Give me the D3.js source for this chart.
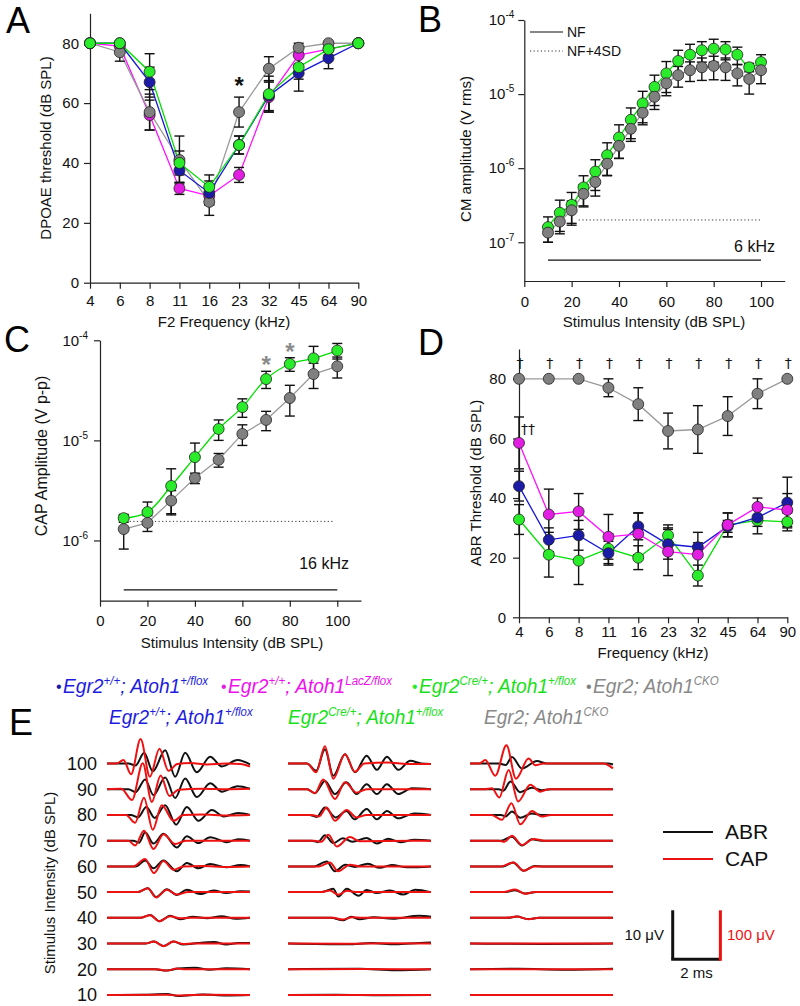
<!DOCTYPE html>
<html><head><meta charset="utf-8">
<script src="https://cdn.jsdelivr.net/npm/d3@7"></script>
<style>
body{margin:0;background:#fff;}
svg{display:block;font-family:"Liberation Sans",Arial,Helvetica,sans-serif;}
</style></head><body>
<svg id="c" width="800" height="1006"></svg>
<script>
// ---------------- DATA ----------------
const freqLabels = ["4","6","8","11","16","23","32","45","64","90"];
const seriesKeys = ["blue","magenta","green","gray"];
// legend genotype labels: [text, isSuperscript]
const genoBlue    = [["Egr2",0],["+/+",1],["; Atoh1",0],["+/flox",1]];
const genoMagenta = [["Egr2",0],["+/+",1],["; Atoh1",0],["LacZ/flox",1]];
const genoGreen   = [["Egr2",0],["Cre/+",1],["; Atoh1",0],["+/flox",1]];
const genoGray    = [["Egr2; Atoh1",0],["CKO",1]];

// Panel A: DPOAE threshold (dB SPL)
const dpoaeBlue       = [80,80,67,37.5,30,46,62.5,70,75,80];
const dpoaeBlueErr    = [0,0,5,4,4,3,5,6,3.5,0];
const dpoaeMagenta    = [80,79,56,31.5,29,36,62,76,78,80];
const dpoaeMagentaErr = [0,0,5,2,3,2.5,5,3,2,0];
const dpoaeGreen      = [80,80,70.5,40,32,46,63,72,78,80];
const dpoaeGreenErr   = [0,0,6,4,4,3,6,4,2,0];
const dpoaeGray       = [80,77,57,41,27,57,71.5,78.5,80,80];
const dpoaeGrayErr    = [0,3,6,8,4.5,5,4,1.5,0.5,0];

// Panel B: CM amplitude (V rms) at 6 kHz
const cmLevels   = [10,15,20,25,30,35,40,45,50,55,60,65,70,75,80,85,90,95,100];
const cmGreen    = [1.6e-7,2.5e-7,3.2e-7,5.5e-7,9e-7,1.5e-6,2.6e-6,4.5e-6,7.5e-6,1.25e-5,1.9e-5,2.8e-5,3.4e-5,3.9e-5,4.1e-5,4.0e-5,3.4e-5,2.3e-5,2.7e-5];
const cmGreenErr = [0.6e-7,1.2e-7,1.5e-7,2.4e-7,4e-7,7e-7,1.25e-6,2e-6,3.4e-6,5.5e-6,8.5e-6,1.1e-5,1.3e-5,1.2e-5,1.4e-5,1.1e-5,0.9e-5,0.3e-5,0.7e-5];
const cmGray     = [1.35e-7,1.9e-7,2.7e-7,4.5e-7,6.5e-7,1.15e-6,2.0e-6,3.4e-6,5.6e-6,9.2e-6,1.4e-5,1.8e-5,2.1e-5,2.3e-5,2.4e-5,2.3e-5,1.9e-5,1.6e-5,2.1e-5];
const cmGrayErr  = [0.35e-7,0.5e-7,0.9e-7,1.5e-7,2.3e-7,3.6e-7,6.4e-7,1.1e-6,1.75e-6,3e-6,4.5e-6,5.6e-6,6.2e-6,7.7e-6,8.4e-6,7.7e-6,6.1e-6,6e-6,7.2e-6];
const cmNoiseFloor = 5.75e-8;
const cmNoiseFloor4SD = 2.0e-7;

// Panel C: CAP amplitude (V p-p) at 16 kHz
const capLevels   = [10,20,30,40,50,60,70,80,90,100];
const capGreen    = [1.67e-6,1.92e-6,3.5e-6,6.8e-6,1.3e-5,2.15e-5,4.1e-5,5.8e-5,6.6e-5,7.9e-5];
const capGreenErr = [0.15e-6,0.5e-6,1.7e-6,2.6e-6,3e-6,4.5e-6,8e-6,9e-6,2.1e-5,1.4e-5];
const capGray     = [1.3e-6,1.5e-6,2.5e-6,4.2e-6,6.4e-6,1.16e-5,1.6e-5,2.65e-5,4.6e-5,5.5e-5];
const capGrayErr  = [0.48e-6,0.27e-6,0.65e-6,0.5e-6,1e-6,2.7e-6,3.5e-6,9e-6,1.3e-5,1.3e-5];
const capNoiseFloor = 3.2e-7;
const capNoiseFloor4SD = 1.55e-6;
const capSignif = [70,80];

// Panel D: ABR threshold (dB SPL)
const abrBlue       = [44,26,27.5,21.5,30.5,24.5,23.5,30.5,33.5,38.5];
const abrBlueErr    = [5,4,5,4,4.5,5,1.5,2,3,8.5];
const abrMagenta    = [58.5,34.5,35.5,27,28,22,21,31,37,36];
const abrMagentaErr = [8.7,8.5,6,7.5,7,8,7.5,4,3,5.5];
const abrGreen      = [32.8,21,19,23,20,27.5,14,31,32.5,32];
const abrGreenErr   = [5,7.5,8,5,4,3.5,3.5,4,4.5,3];
const abrGray       = [80,80,80,77,71.5,62.5,63,67.5,75,80];
const abrGrayErr    = [0,0,0,3,5.5,6,8,6.5,5,0];

// Panel E: waveforms, [time ms, amplitude uV]; rows = 100..10 dB SPL
const stimLevels = [100,90,80,70,60,50,40,30,20,10];
const abrWaveCol1 = [
 [[0,0],[0.9,0],[1.2,-0.4],[1.56,2.2],[1.92,-1.6],[2.44,2.7],[2.86,-2.7],[3.28,2.2],[3.77,-1.8],[4.33,1.4],[4.82,-0.6],[5.48,0.7],[6,-0.2]],
 [[0,0],[0.9,0],[1.2,-0.6],[1.6,2.0],[1.95,-1.2],[2.44,2.4],[2.86,-1.8],[3.28,2.2],[3.77,-1.6],[4.33,1.2],[4.82,-0.5],[5.48,0.6],[6,0.1]],
 [[0,0],[1.0,0],[1.3,-0.5],[1.65,1.6],[2.0,-0.6],[2.44,2.0],[2.9,-2.0],[3.35,1.6],[3.84,-1.2],[4.4,1.0],[4.9,-0.3],[5.5,0.4],[6,0]],
 [[0,0],[1.1,0],[1.35,-0.4],[1.6,1.7],[1.95,-0.6],[2.37,1.4],[2.93,-1.4],[3.35,0.9],[3.84,-0.5],[4.33,0.7],[5.03,-0.3],[5.5,0.3],[6,0]],
 [[0,0],[1.2,0],[1.6,1.2],[1.95,-0.4],[2.37,1.2],[2.93,-1.0],[3.35,0.7],[3.84,-0.4],[4.33,0.5],[5,-0.2],[5.6,0.3],[6,0]],
 [[0,0],[1.3,0],[1.71,0.8],[2.06,-1.0],[2.51,0.6],[2.93,-0.6],[3.35,0.5],[3.91,-0.4],[4.47,0.35],[5,-0.2],[5.6,0.2],[6,0.1]],
 [[0,0],[1.4,0],[1.81,0.6],[2.2,-0.7],[2.65,0.4],[3.07,-0.3],[3.6,0.2],[4.2,-0.1],[4.8,0.3],[5.4,-0.2],[6,0]],
 [[0,0],[1.6,0],[1.97,0.4],[2.37,-0.5],[2.79,0.4],[3.2,-0.2],[3.8,0.1],[4.5,0.3],[5,-0.2],[5.5,0.1],[6,0.1]],
 [[0,0],[2.0,0],[2.5,-0.25],[3.0,0.15],[3.7,0.3],[4.3,-0.1],[5,0.2],[6,0]],
 [[0,0],[1.5,0.05],[2.5,0.2],[3.0,-0.2],[4,0.1],[5,-0.1],[6,0]]
];
const capWaveCol1 = [
 [[0,0],[0.4,0],[0.69,7],[1.01,-22],[1.41,50],[1.8,-27],[2.2,30],[2.58,-15],[2.95,-1],[3.5,1],[4.2,-2],[5,0],[5.6,-1],[6,-6]],
 [[0,0],[0.6,1],[1.05,-22],[1.5,53],[1.88,-26],[2.25,28],[2.62,-14],[3.0,-1],[4,1],[5,0],[6,1]],
 [[0,0],[0.8,0],[1.18,-16],[1.55,35],[1.92,-30],[2.3,20],[2.79,-12],[3.2,0],[4,1],[5,-1],[6,0]],
 [[0,0],[0.9,0],[1.18,-10],[1.55,20],[1.95,-17],[2.37,13],[2.86,-7],[3.3,0],[6,0]],
 [[0,0],[1.1,0],[1.6,15],[1.97,-13.6],[2.37,11],[2.79,-6.8],[3.2,0],[4,1],[5,-1],[6,0]],
 [[0,0],[1.3,0],[1.71,8],[2.06,-11],[2.51,5],[2.93,-5],[3.4,0],[6,0]],
 [[0,0],[1.4,0],[1.81,5.4],[2.2,-6.8],[2.65,3.4],[3.07,-1],[3.5,0],[6,0]],
 [[0,0],[1.6,0],[1.97,4],[2.37,-5.4],[2.79,4],[3.2,-1],[3.6,0],[6,0]],
 [[0,0],[2.1,0],[2.51,-2.7],[2.93,1.4],[3.3,0],[6,0]],
 [[0,0],[2.5,0.5],[3.0,-1],[4,0.5],[6,0]]
];
const abrWaveCol2 = [
 [[0,0],[0.8,0],[1.18,-1.5],[1.55,2.9],[1.9,-2.5],[2.39,1.9],[2.81,-1.8],[3.3,1.6],[3.73,-1.3],[4.15,1.4],[4.63,-1.3],[5.13,0.55],[5.6,0],[6,-0.1]],
 [[0,0],[0.8,0],[1.13,-0.8],[1.55,1.7],[1.97,-1.0],[2.45,1.4],[2.88,-1.0],[3.3,1.0],[3.73,-1.0],[4.15,1.0],[4.63,-1.0],[5.2,0.2],[6,0]],
 [[0,0],[0.9,0],[1.2,-0.4],[1.55,1.5],[2.0,-0.5],[2.45,0.8],[2.8,-0.9],[3.3,1.2],[3.73,-0.9],[4.15,0.8],[4.63,-0.7],[5.3,0.3],[6,0]],
 [[0,0],[1.0,0],[1.25,-0.3],[1.55,1.1],[1.9,-0.5],[2.3,0.5],[2.7,-0.2],[3.3,0.55],[3.73,-0.6],[4.2,0.4],[4.7,-0.3],[5.3,0.2],[6,0]],
 [[0,0],[1.1,0],[1.62,1.0],[1.97,-1.0],[2.4,0.35],[2.8,-0.1],[3.35,0.55],[3.85,-0.3],[4.35,0.3],[5.0,-0.2],[6,0]],
 [[0,0],[1.4,0],[1.9,0.7],[2.11,-0.9],[2.47,0.7],[2.96,-0.75],[3.3,0.45],[3.72,-0.2],[4.28,0.35],[4.84,-0.5],[5.33,0.5],[6,0]],
 [[0,0],[1.8,0],[2.3,-0.5],[2.65,0.2],[3.0,-0.3],[3.6,0.1],[4.4,-0.2],[5.5,0.4],[6,0.2]],
 [[0,0],[2.5,-0.15],[3.5,0.1],[4.5,-0.15],[5.5,0.1],[6,0.2]],
 [[0,0],[3,0.1],[4.5,-0.2],[6,0]],
 [[0,0],[2,0.05],[4,-0.05],[6,0]]
];
const capWaveCol2 = [
 [[0,0],[0.8,0],[1.18,-18],[1.55,35],[1.9,-31],[2.39,19],[2.81,-17],[3.2,0],[4.2,2],[5,-1],[6,-1]],
 [[0,0],[0.8,0],[1.13,-8],[1.48,20],[1.97,-20],[2.39,14],[2.88,-7],[3.3,0],[6,0]],
 [[0,0],[1.0,0],[1.3,-3],[1.62,15],[1.97,-12],[2.46,10],[2.88,-5],[3.3,0],[6,0]],
 [[0,0],[1.1,0],[1.4,-2],[1.69,12],[2.05,-12],[2.6,7.5],[3.0,-1],[6,0]],
 [[0,0],[1.3,0],[1.76,8],[2.1,-10],[2.6,3.4],[3.0,0],[6,0]],
 [[0,0],[1.4,0],[1.76,3.4],[2.11,-5.5],[2.47,2.7],[2.9,0],[6,0]],
 [[0,0],[1.9,0],[2.3,-3.4],[2.7,1],[3.1,0],[6,0]],
 [[0,0],[2.5,-0.5],[4,0.5],[6,0]],
 [[0,0],[3,0.5],[6,0]],
 [[0,0],[6,0]]
];
const abrWaveCol3 = [
 [[0,0],[1.2,0],[1.5,-0.3],[1.76,1.35],[2.18,-1.0],[2.81,0.5],[3.2,0],[5.8,0],[6,-0.2]],
 [[0,0],[1.2,0],[1.4,-0.3],[1.7,1.6],[2.1,-0.6],[2.6,0.3],[3.0,-0.2],[3.4,0],[6,0]],
 [[0,0],[1.3,0],[1.5,-0.3],[1.76,0.7],[2.11,-0.55],[2.6,0.3],[3.0,0],[6,0]],
 [[0,0],[1.3,0],[1.76,0.8],[2.18,-1.0],[2.6,0.3],[3.0,0],[6,0]],
 [[0,0],[1.4,0],[1.8,0.8],[2.25,-0.9],[2.7,0.1],[3.1,0],[6,0]],
 [[0,0],[1.5,0],[1.89,0.4],[2.31,-0.3],[2.8,0],[6,0]],
 [[0,0],[1.6,0],[1.96,0.25],[2.45,-0.25],[2.9,0],[6,0]],
 [[0,0],[3,-0.1],[6,0]],
 [[0,0],[2,0.1],[4,-0.1],[6,0.1]],
 [[0,0],[6,0]]
];
const capWaveCol3 = [
 [[0,0],[0.4,0],[0.64,7],[1.06,-25],[1.53,37],[1.93,-31],[2.46,10],[2.74,-3.5],[3.1,0],[5.6,0],[6,-10]],
 [[0,0],[0.6,0],[0.92,2],[1.23,-17],[1.62,39],[2.02,-25],[2.53,9],[2.95,-5],[3.3,0],[6,0]],
 [[0,0],[0.9,0],[1.34,-10],[1.74,24],[2.11,-19],[2.6,8],[3.0,-3.4],[3.4,0],[6,0]],
 [[0,0],[1.2,0],[1.45,-2],[1.76,10],[2.18,-9],[2.67,3.4],[3.1,0],[6,0]],
 [[0,0],[1.3,0],[1.83,8],[2.25,-9],[2.7,0],[6,0]],
 [[0,0],[1.4,0],[1.89,5.4],[2.31,-3.4],[2.7,0],[6,0]],
 [[0,0],[1.5,0],[1.96,2.7],[2.45,-2.7],[2.9,0],[6,0]],
 [[0,0],[6,0]],
 [[0,0],[6,0]],
 [[0,0],[6,0]]
];

// ---------------- STYLE ----------------
const FILL = {blue:"#1b1ba6", magenta:"#e21ee2", green:"#2bec2b", gray:"#808080"};
const LINE = {blue:"#1515d8", magenta:"#ff10ff", green:"#00e000", gray:"#9a9a9a"};
const TEXTC = {blue:"#1c1ce0", magenta:"#ee10ee", green:"#18e018", gray:"#888888"};
const svg = d3.select("#c");

function styleAxis(g, fs){
  g.selectAll("path,line").attr("stroke","#222").attr("stroke-width",1.2);
  g.selectAll("text").attr("font-size",fs||15).attr("fill","#111").attr("font-family","Liberation Sans, Arial, sans-serif");
}
function logLabels(g){
  g.selectAll(".tick text").each(function(d){
    const e = Math.round(Math.log10(d));
    const t = d3.select(this); t.text(null);
    t.append("tspan").text("10");
    t.append("tspan").attr("dy",-7).attr("font-size",10).text(e);
  });
}
function letter(x,y,s){ svg.append("text").attr("x",x).attr("y",y).attr("font-size",36).attr("fill","#000").text(s); }
function ytitle(x,y,s,fs){ svg.append("text").attr("transform",`translate(${x},${y}) rotate(-90)`).attr("text-anchor","middle").attr("font-size",fs||15).attr("fill","#111").text(s); }
function xtitle(x,y,s,fs){ svg.append("text").attr("x",x).attr("y",y).attr("text-anchor","middle").attr("font-size",fs||15).attr("fill","#111").text(s); }

function drawSeries(g, xv, vals, errs, x, y, key, curve, cap){
  const ymin = y.domain()[0];
  g.append("path").datum(vals.map((v,i)=>[xv[i],v]))
    .attr("fill","none").attr("stroke",LINE[key]).attr("stroke-width",1.3)
    .attr("d", d3.line().x(d=>x(d[0])).y(d=>y(d[1])).curve(curve||d3.curveLinear));
  const eg = g.append("g").attr("stroke","#111").attr("stroke-width",1.4);
  vals.forEach((v,i)=>{
    const e = errs[i]; if(!e) return;
    const cx = x(xv[i]);
    const lo = Math.max(v-e, ymin), hi = v+e;
    eg.append("line").attr("x1",cx).attr("x2",cx).attr("y1",y(lo)).attr("y2",y(hi));
    eg.append("line").attr("x1",cx-cap).attr("x2",cx+cap).attr("y1",y(hi)).attr("y2",y(hi));
    if (v-e > ymin) eg.append("line").attr("x1",cx-cap).attr("x2",cx+cap).attr("y1",y(lo)).attr("y2",y(lo));
  });
}
function drawMarkers(g, xv, vals, x, y, key, r){
  g.append("g").selectAll("circle").data(vals).join("circle")
    .attr("cx",(d,i)=>x(xv[i])).attr("cy",d=>y(d)).attr("r",r||5.5)
    .attr("fill",FILL[key]).attr("stroke","#222").attr("stroke-width",0.8);
}
function richText(x, y, parts, color, fs, sfs, sx){
  const g = svg.append("g").attr("transform",`translate(${x},${y}) scale(${sx||1},1)`);
  const t = g.append("text").attr("x",0).attr("y",0).attr("fill",color)
    .attr("font-size",fs).attr("font-style","italic")
    .attr("font-family","Liberation Sans, Arial, sans-serif");
  let sup = false;
  parts.forEach(p=>{
    const ts = t.append("tspan").text(p[0]);
    if(p[1] && !sup){ ts.attr("dy",-fs*0.38).attr("font-size",sfs); sup=true; }
    else if(!p[1] && sup){ ts.attr("dy",fs*0.38); sup=false; }
  });
  return t;
}

// ---------------- PANEL A ----------------
{
  const x = d3.scalePoint().domain(freqLabels).range([90,358.3]);
  const y = d3.scaleLinear().domain([0,90]).range([282.7,13.3]);
  const ax = svg.append("g").attr("transform","translate(0,282.7)")
    .call(d3.axisBottom(x).tickSize(6).tickSizeOuter(0).tickPadding(7));
  styleAxis(ax);
  const ay = svg.append("g").attr("transform","translate(90,0)")
    .call(d3.axisLeft(y).tickValues([0,20,40,60,80]).tickSize(6).tickSizeOuter(0).tickPadding(5));
  styleAxis(ay);
  const g = svg.append("g");
  const S = {blue:[dpoaeBlue,dpoaeBlueErr],magenta:[dpoaeMagenta,dpoaeMagentaErr],green:[dpoaeGreen,dpoaeGreenErr],gray:[dpoaeGray,dpoaeGrayErr]};
  const order = ["magenta","gray","blue","green"];
  order.forEach(k=>drawSeries(g,freqLabels,S[k][0],S[k][1],x,y,k,null,5));
  order.forEach(k=>drawMarkers(g,freqLabels,S[k][0],x,y,k));
  svg.append("text").attr("x",x("23")).attr("y",94).attr("text-anchor","middle").attr("font-size",24).attr("font-weight","bold").attr("fill","#111").text("*");
  letter(6,33,"A");
  ytitle(51,148,"DPOAE threshold (dB SPL)");
  xtitle(224,327,"F2 Frequency (kHz)");
}

// ---------------- PANEL B ----------------
{
  const x = d3.scaleLinear().domain([0,110]).range([524.3,784.7]);
  const y = d3.scaleLog().domain([3e-8,1e-4]).range([281,20]);
  const ax = svg.append("g").attr("transform","translate(0,281)")
    .call(d3.axisBottom(x).tickValues([0,20,40,60,80,100]).tickSize(6).tickSizeOuter(0).tickPadding(9));
  styleAxis(ax);
  const ay = svg.append("g").attr("transform","translate(524.3,0)")
    .call(d3.axisLeft(y).tickValues([1e-7,1e-6,1e-5,1e-4]).tickSize(6).tickSizeOuter(0).tickPadding(4));
  styleAxis(ay); logLabels(ay);
  svg.append("line").attr("x1",x(10)).attr("x2",x(100)).attr("y1",y(cmNoiseFloor)).attr("y2",y(cmNoiseFloor)).attr("stroke","#111").attr("stroke-width",1.3);
  svg.append("line").attr("x1",x(23)).attr("x2",x(100)).attr("y1",y(cmNoiseFloor4SD)).attr("y2",y(cmNoiseFloor4SD)).attr("stroke","#333").attr("stroke-width",1).attr("stroke-dasharray","1.2,2.4");
  const g = svg.append("g");
  drawSeries(g,cmLevels,cmGreen,cmGreenErr,x,y,"green",d3.curveCatmullRom,5);
  drawSeries(g,cmLevels,cmGray,cmGrayErr,x,y,"gray",null,5);
  drawMarkers(g,cmLevels,cmGreen,x,y,"green");
  drawMarkers(g,cmLevels,cmGray,x,y,"gray");
  // legend
  svg.append("line").attr("x1",530).attr("x2",563).attr("y1",32).attr("y2",32).attr("stroke","#111").attr("stroke-width",1.2);
  svg.append("text").attr("x",567).attr("y",37).attr("font-size",14).attr("fill","#111").text("NF");
  svg.append("line").attr("x1",530).attr("x2",563).attr("y1",51).attr("y2",51).attr("stroke","#333").attr("stroke-width",1).attr("stroke-dasharray","1.2,2.4");
  svg.append("text").attr("x",567).attr("y",56).attr("font-size",14).attr("fill","#111").text("NF+4SD");
  svg.append("text").attr("x",775).attr("y",252).attr("text-anchor","end").attr("font-size",16).attr("fill","#111").text("6 kHz");
  letter(418,32,"B");
  ytitle(471,149,"CM amplitude (V rms)",15);
  xtitle(654,327,"Stimulus Intensity (dB SPL)");
}

// ---------------- PANEL C ----------------
{
  const x = d3.scaleLinear().domain([0,110]).range([100,361]);
  const y = d3.scaleLog().domain([2.5e-7,1e-4]).range([600.7,340.3]);
  const ax = svg.append("g").attr("transform","translate(0,600.7)")
    .call(d3.axisBottom(x).tickValues([0,20,40,60,80,100]).tickSize(6).tickSizeOuter(0).tickPadding(9));
  styleAxis(ax);
  const ay = svg.append("g").attr("transform","translate(100,0)")
    .call(d3.axisLeft(y).tickValues([1e-6,1e-5,1e-4]).tickSize(6).tickSizeOuter(0).tickPadding(6));
  styleAxis(ay); logLabels(ay);
  svg.append("line").attr("x1",x(10)).attr("x2",x(100)).attr("y1",y(capNoiseFloor)).attr("y2",y(capNoiseFloor)).attr("stroke","#111").attr("stroke-width",1.3);
  svg.append("line").attr("x1",x(11)).attr("x2",x(98)).attr("y1",y(capNoiseFloor4SD)).attr("y2",y(capNoiseFloor4SD)).attr("stroke","#333").attr("stroke-width",1).attr("stroke-dasharray","1.2,2.4");
  const g = svg.append("g");
  drawSeries(g,capLevels,capGray,capGrayErr,x,y,"gray",null,5);
  drawSeries(g,capLevels,capGreen,capGreenErr,x,y,"green",d3.curveCatmullRom,5);
  drawMarkers(g,capLevels,capGray,x,y,"gray");
  drawMarkers(g,capLevels,capGreen,x,y,"green");
  capSignif.forEach((lv)=>{
    const gi = capLevels.indexOf(lv);
    svg.append("text").attr("x",x(lv)).attr("y",y(capGreen[gi]+capGreenErr[gi])+2).attr("text-anchor","middle")
      .attr("font-size",24).attr("font-weight","bold").attr("fill","#8a8a8a").text("*");
  });
  svg.append("text").attr("x",349).attr("y",569).attr("text-anchor","end").attr("font-size",16).attr("fill","#111").text("16 kHz");
  letter(4,352,"C");
  ytitle(47,456,"CAP Amplitude (V p-p)",16);
  xtitle(232,648,"Stimulus Intensity (dB SPL)");
}

// ---------------- PANEL D ----------------
{
  const x = d3.scalePoint().domain(freqLabels).range([519,787.3]);
  const y = d3.scaleLinear().domain([0,90]).range([617.3,349]);
  const ax = svg.append("g").attr("transform","translate(0,617.3)")
    .call(d3.axisBottom(x).tickSize(6).tickSizeOuter(0).tickPadding(3));
  styleAxis(ax);
  const ay = svg.append("g").attr("transform","translate(519,0)")
    .call(d3.axisLeft(y).tickValues([0,20,40,60,80]).tickSize(6).tickSizeOuter(0).tickPadding(7));
  styleAxis(ay);
  const g = svg.append("g");
  const S = {blue:[abrBlue,abrBlueErr],magenta:[abrMagenta,abrMagentaErr],green:[abrGreen,abrGreenErr],gray:[abrGray,abrGrayErr]};
  const order = ["gray","green","blue","magenta"];
  order.forEach(k=>drawSeries(g,freqLabels,S[k][0],S[k][1],x,y,k,null,5));
  order.forEach(k=>drawMarkers(g,freqLabels,S[k][0],x,y,k));
  freqLabels.forEach(f=>{
    svg.append("text").attr("x",x(f)+1).attr("y",368).attr("text-anchor","middle")
      .attr("font-family","DejaVu Sans, sans-serif").attr("font-size",14).attr("fill","#111").text("\u2020");
  });
  svg.append("text").attr("x",521).attr("y",434).attr("font-family","DejaVu Sans, sans-serif")
    .attr("font-size",14).attr("fill","#111").text("\u2020\u2020");
  letter(418,355,"D");
  ytitle(481,483,"ABR Threshold (dB SPL)");
  xtitle(653,658,"Frequency (kHz)");
}

// ---------------- LEGEND ROW ----------------
{
  const genos = [genoBlue,genoMagenta,genoGreen,genoGray];
  const xs = [56,221,412,586];
  genos.forEach((gp,i)=>{
    const k = seriesKeys[i];
    svg.append("text").attr("x",xs[i]).attr("y",692).attr("fill",FILL[k]).attr("font-size",16).text("\u2022");
    richText(xs[i]+7,693,gp,TEXTC[k],20,12,0.96);
  });
}

// ---------------- PANEL E ----------------
{
  letter(9,735,"E");
  const colX0 = [107,288,470];
  const colW = 143;
  const titles = [genoBlue,genoGreen,genoGray];
  const tkeys = ["blue","green","gray"];
  const titleX = [109,288,484];
  titles.forEach((t,i)=>richText(titleX[i],724,t,TEXTC[tkeys[i]],20,12,0.95));
  const yLevel = d3.scalePoint().domain(stimLevels).range([763.5,995]);
  const abrY = d3.scaleLinear().domain([-10,10]).range([49,-49]);
  const capY = d3.scaleLinear().domain([-100,100]).range([49,-49]);
  stimLevels.forEach(l=>{
    svg.append("text").attr("x",97).attr("y",yLevel(l)).attr("dy","0.36em").attr("text-anchor","end").attr("font-size",18).attr("fill","#111").text(l);
  });
  const abrCols = [abrWaveCol1,abrWaveCol2,abrWaveCol3];
  const capCols = [capWaveCol1,capWaveCol2,capWaveCol3];
  const g = svg.append("g");
  colX0.forEach((x0,c)=>{
    const xs = d3.scaleLinear().domain([0,6]).range([x0,x0+colW]);
    stimLevels.forEach((l,r)=>{
      const b = yLevel(l);
      g.append("path").datum(abrCols[c][r]).attr("fill","none").attr("stroke","#111").attr("stroke-width",2)
        .attr("d",d3.line().x(d=>xs(d[0])).y(d=>b+abrY(d[1])).curve(d3.curveMonotoneX));
    });
    stimLevels.forEach((l,r)=>{
      const b = yLevel(l);
      g.append("path").datum(capCols[c][r]).attr("fill","none").attr("stroke","#ee1111").attr("stroke-width",2)
        .attr("d",d3.line().x(d=>xs(d[0])).y(d=>b+capY(d[1])).curve(d3.curveMonotoneX));
    });
  });
  ytitle(55,883,"Stimulus Intensity (dB SPL)");
  // legend ABR / CAP
  svg.append("line").attr("x1",663).attr("x2",713).attr("y1",832).attr("y2",832).attr("stroke","#111").attr("stroke-width",2);
  svg.append("text").attr("x",725).attr("y",839).attr("font-size",21).attr("fill","#111").text("ABR");
  svg.append("line").attr("x1",663).attr("x2",713).attr("y1",859).attr("y2",859).attr("stroke","#ee1111").attr("stroke-width",2);
  svg.append("text").attr("x",725).attr("y",866).attr("font-size",21).attr("fill","#111").text("CAP");
  // scale bars
  const sb = svg.append("g");
  const x0 = 672.7, yb = 959.3;
  const msScale = d3.scaleLinear().domain([0,6]).range([0,colW]);
  sb.append("line").attr("x1",x0).attr("x2",x0).attr("y1",yb+abrY(0)).attr("y2",yb+abrY(10)).attr("stroke","#111").attr("stroke-width",3);
  sb.append("line").attr("x1",x0-1.5).attr("x2",x0+msScale(2)).attr("y1",yb).attr("y2",yb).attr("stroke","#111").attr("stroke-width",3);
  sb.append("line").attr("x1",x0+msScale(2)).attr("x2",x0+msScale(2)).attr("y1",yb+1.5).attr("y2",yb+capY(100)).attr("stroke","#ee1111").attr("stroke-width",3);
  svg.append("text").attr("x",664).attr("y",940).attr("text-anchor","end").attr("font-size",15).attr("fill","#111").text("10 \u03bcV");
  svg.append("text").attr("x",727).attr("y",940).attr("font-size",15).attr("fill","#ee1111").text("100 \u03bcV");
  svg.append("text").attr("x",x0+msScale(1)).attr("y",978).attr("text-anchor","middle").attr("font-size",15).attr("fill","#111").text("2 ms");
}
</script>
</body></html>
